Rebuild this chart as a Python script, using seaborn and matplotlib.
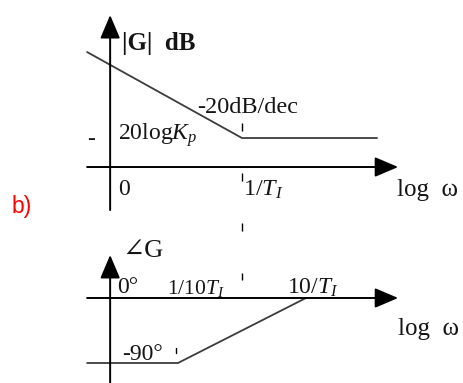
import numpy as np
import pandas as pd
import seaborn as sns
import matplotlib.pyplot as plt

sns.set_style("white")
plt.rcParams["font.family"] = ["Liberation Serif", "DejaVu Serif"]
plt.rcParams["mathtext.fontset"] = "custom"
plt.rcParams["mathtext.rm"] = "Liberation Serif"
plt.rcParams["mathtext.it"] = "Liberation Serif:italic"

# asintotas de Bode, x = log10(w*T_I)
mag_logw = [-2.42, 0.0, 2.11]
mag_db = [79.3, 20.0, 20.0]
phase_logw = [-2.42, -1.0, 1.0]
phase_deg = [-90.0, -90.0, 0.0]

mag = pd.DataFrame({"logw": mag_logw, "db": mag_db})
phase = pd.DataFrame({"logw": phase_logw, "deg": phase_deg})

TXT = "#151515"
LINE = "#3c3c3c"
FS = 17

fig = plt.figure(figsize=(4.64, 3.83), dpi=100)
ax1 = fig.add_axes([0, 1 - 215 / 383, 1, 215 / 383])
ax2 = fig.add_axes([0, 0, 1, 168 / 383])
for ax in (ax1, ax2):
    ax.set_xlim(-3.781, 3.469)
    ax.axis("off")
ax1.set_ylim(-33.1, 115.2)
ax2.set_ylim(-117.7, 114.9)


def arrow(ax, start, tip):
    ax.annotate("", xy=tip, xytext=start, annotation_clip=False,
                arrowprops=dict(arrowstyle="-|>,head_length=0.4,head_width=0.17",
                                mutation_scale=36, lw=1.4, color="black",
                                shrinkA=0, shrinkB=0))


# magnitud
arrow(ax1, (-2.06, -29.7), (-2.06, 104.8))
arrow(ax1, (-2.42, 0), (2.44, 0))
sns.lineplot(data=mag, x="logw", y="db", ax=ax1, color=LINE, lw=1.3,
             sort=False, legend=False)
ax1.plot([0, 0], [30.3, -77.9], color="black", lw=1.0,
         linestyle=(0, (5.8, 30.2)), clip_on=False)
ax1.text(-1.88, 85.5, "|G|  dB", fontsize=18, fontweight="bold", color=TXT, va="center")
ax1.text(-0.70, 37.2, "-20dB/dec", fontsize=17.5, color=TXT, va="baseline")
ax1.text(-2.36, 19.3, "-", fontsize=FS, color=TXT, va="center", ha="center")
ax1.text(-1.94, 18.6, "20log$K_p$", fontsize=FS, color=TXT, va="baseline")
ax1.text(-1.94, -19.3, "0", fontsize=FS, color=TXT, va="baseline")
ax1.text(0.02, -20.0, "1/$T_I$", fontsize=17.5, color=TXT, va="baseline")
ax1.text(2.42, -20.0, "log  ω", fontsize=18, color=TXT, va="baseline")

# fase
arrow(ax2, (-2.06, -117.7), (-2.06, 59.5))
arrow(ax2, (-2.42, 0), (2.44, 0))
sns.lineplot(data=phase, x="logw", y="deg", ax=ax2, color=LINE, lw=1.3,
             sort=False, legend=False)
ax2.plot([-1.03, -1.03], [-69, -76], color="black", lw=1.0)
ax2.text(-1.875, 64.4, "∠G", fontsize=19, color=TXT, va="center")
ax2.text(-1.95, 6.9, "0°", fontsize=FS, color=TXT, va="baseline")
ax2.text(-1.17, 5.5, "1/10$T_I$", fontsize=15.5, color=TXT, va="baseline")
ax2.text(0.70, 5.5, "10/$T_I$", fontsize=FS, color=TXT, va="baseline")
ax2.text(2.44, -51.0, "log  ω", fontsize=18, color=TXT, va="baseline")
ax2.text(-1.875, -85.8, "-90°", fontsize=FS, color=TXT, va="baseline")

fig.text(12 / 464, 1 - 207 / 383, "b)", color="red", fontsize=16.5,
         family=["Liberation Sans", "DejaVu Sans"], va="center")

plt.savefig("out.png", dpi=100)
plt.close()
